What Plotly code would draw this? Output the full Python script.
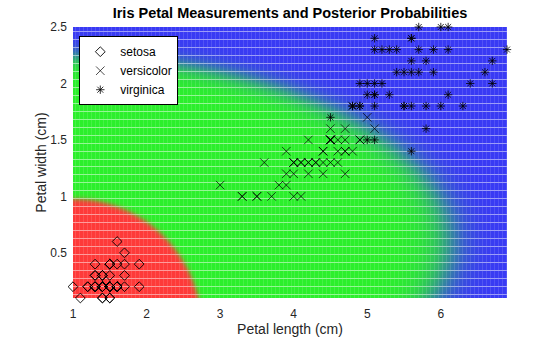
import numpy as np
import plotly.graph_objects as go

# Fisher iris petal measurements (cm)
setosa_len = [1.4,1.4,1.3,1.5,1.4,1.7,1.4,1.5,1.4,1.5,1.5,1.6,1.4,1.1,1.2,1.5,1.3,1.4,1.7,1.5,
              1.7,1.5,1.0,1.7,1.9,1.6,1.6,1.5,1.4,1.6,1.6,1.5,1.5,1.4,1.5,1.2,1.3,1.4,1.3,1.5,
              1.3,1.3,1.3,1.6,1.9,1.4,1.6,1.4,1.5,1.4]
setosa_wid = [0.2,0.2,0.2,0.2,0.2,0.4,0.3,0.2,0.2,0.1,0.2,0.2,0.1,0.1,0.2,0.4,0.4,0.3,0.3,0.3,
              0.2,0.4,0.2,0.5,0.2,0.2,0.4,0.2,0.2,0.2,0.2,0.4,0.1,0.2,0.2,0.2,0.2,0.1,0.2,0.2,
              0.3,0.3,0.2,0.6,0.4,0.3,0.2,0.2,0.2,0.2]
versi_len = [4.7,4.5,4.9,4.0,4.6,4.5,4.7,3.3,4.6,3.9,3.5,4.2,4.0,4.7,3.6,4.4,4.5,4.1,4.5,3.9,
             4.8,4.0,4.9,4.7,4.3,4.4,4.8,5.0,4.5,3.5,3.8,3.7,3.9,5.1,4.5,4.5,4.7,4.4,4.1,4.0,
             4.4,4.6,4.0,3.3,4.2,4.2,4.2,4.3,3.0,4.1]
versi_wid = [1.4,1.5,1.5,1.3,1.5,1.3,1.6,1.0,1.3,1.4,1.0,1.5,1.0,1.4,1.3,1.4,1.5,1.0,1.5,1.1,
             1.8,1.3,1.5,1.2,1.3,1.4,1.4,1.7,1.5,1.0,1.1,1.0,1.2,1.6,1.5,1.6,1.5,1.3,1.3,1.3,
             1.2,1.4,1.2,1.0,1.3,1.2,1.3,1.3,1.1,1.3]
virg_len = [6.0,5.1,5.9,5.6,5.8,6.6,4.5,6.3,5.8,6.1,5.1,5.3,5.5,5.0,5.1,5.3,5.5,6.7,6.9,5.0,
            5.7,4.9,6.7,4.9,5.7,6.0,4.8,4.9,5.6,5.8,6.1,6.4,5.6,5.1,5.6,6.1,5.6,5.5,4.8,5.4,
            5.6,5.1,5.1,5.9,5.7,5.2,5.0,5.2,5.4,5.1]
virg_wid = [2.5,1.9,2.1,1.8,2.2,2.1,1.7,1.8,1.8,2.5,2.0,1.9,2.1,2.0,2.4,2.3,1.8,2.2,2.3,1.5,
            2.3,2.0,2.0,1.8,2.1,1.8,1.8,1.8,2.1,1.6,1.9,2.0,2.2,1.5,1.4,2.3,2.4,1.8,1.8,2.1,
            2.4,2.3,1.9,2.3,2.5,2.3,1.9,2.0,2.3,1.8]

class_names = ["setosa", "versicolor", "virginica"]
class_colors = [(255, 58, 58), (44, 240, 44), (58, 58, 245)]

groups = [(setosa_len, setosa_wid), (versi_len, versi_wid), (virg_len, virg_wid)]

# Gaussian naive Bayes posterior over a pixel grid (as in the original figure)
xmin, xmax = min(min(g[0]) for g in groups), max(max(g[0]) for g in groups)
ymin, ymax = min(min(g[1]) for g in groups), max(max(g[1]) for g in groups)
W, H = 435, 272
dx = (xmax - xmin) / W
dy = (ymax - ymin) / H
gx = xmin + dx * (np.arange(W) + 0.5)
gy = ymin + dy * (np.arange(H) + 0.5)
GX, GY = np.meshgrid(gx, gy)

logp = []
for L, Wd in groups:
    L = np.array(L); Wd = np.array(Wd)
    m1, s1 = L.mean(), L.std(ddof=1)
    m2, s2 = Wd.mean(), Wd.std(ddof=1)
    lp = (-0.5 * ((GX - m1) / s1) ** 2 - np.log(s1)
          - 0.5 * ((GY - m2) / s2) ** 2 - np.log(s2))
    logp.append(lp)
logp = np.stack(logp, axis=-1)
logp -= logp.max(axis=-1, keepdims=True)
post = np.exp(logp)
post /= post.sum(axis=-1, keepdims=True)

cols = np.array(class_colors, dtype=float)
img = post @ cols  # H x W x 3

# dotted-grid texture of the original scatter rendering
rows = np.arange(H)
cols_i = np.arange(W)
row_mask = ((H - 1 - rows) % 8 == 4)[:, None, None]
col_mask = (cols_i % 4 == 2)[None, :, None]
img = np.where(row_mask, img * 0.5 + 255 * 0.5, img)
img = np.where(col_mask & ~row_mask, img * 0.88 + 255 * 0.12, img)
img = np.clip(img, 0, 255).astype(np.uint8)

fig = go.Figure()
fig.add_trace(go.Image(z=img, x0=gx[0], dx=dx, y0=gy[0], dy=dy,
                       hoverinfo="skip", colormodel="rgb"))

symbols = ["diamond-open", "x-thin-open", "asterisk-open"]
sizes = [7.5, 8.5, 7]
widths = [0.9, 0.7, 0.8]
for (L, Wd), name, sym, sz, lw in zip(groups, class_names, symbols, sizes, widths):
    fig.add_trace(go.Scatter(
        x=L, y=Wd, mode="markers", name=name, cliponaxis=False,
        marker=dict(symbol=sym, size=sz, color="black",
                    line=dict(color="black", width=lw))))

font = "Liberation Sans, Arial, Helvetica, sans-serif"
fig.update_layout(
    width=560, height=337,
    margin=dict(l=73, r=52.5, t=27, b=38.7),
    paper_bgcolor="white", plot_bgcolor="white",
    font=dict(family=font, size=12, color="#262626"),
    title=dict(text="<b>Iris Petal Measurements and Posterior Probabilities</b>",
               x=0.5, xref="paper", xanchor="center", y=0.962, yanchor="middle",
               font=dict(size=14.5, color="black")),
    legend=dict(x=0.0145, y=0.966, xanchor="left", yanchor="top",
                bgcolor="white", bordercolor="black", borderwidth=1,
                font=dict(size=12, color="black"),
                tracegroupgap=0),
    xaxis=dict(range=[xmin, xmax], tickvals=[1, 2, 3, 4, 5, 6],
               showgrid=False, zeroline=False, showline=False, ticks="",
               ticklabelstandoff=7, automargin=False,
               title=dict(text="Petal length (cm)", standoff=4, font=dict(size=14))),
    yaxis=dict(range=[ymin, ymax], tickvals=[0.5, 1, 1.5, 2, 2.5],
               autorange=False, scaleanchor=False,
               showgrid=False, zeroline=False, showline=False, ticks="",
               ticklabelstandoff=5, automargin=False,
               title=dict(text="Petal width (cm)", standoff=0, font=dict(size=14))),
)

fig.write_html("out.html")
